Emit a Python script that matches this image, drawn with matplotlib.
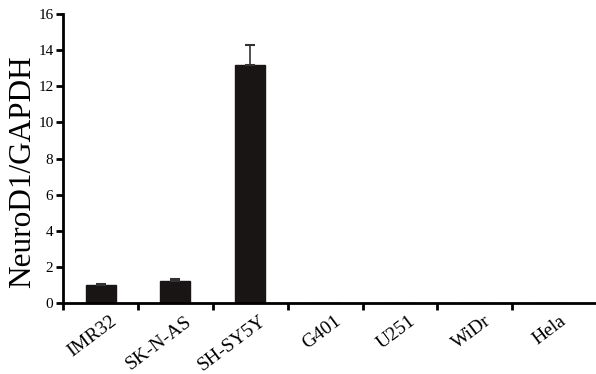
import matplotlib
matplotlib.use("Agg")
import matplotlib.pyplot as plt
import numpy as np

# ----- Data -----
cell_lines = ["IMR32", "SK-N-AS", "SH-SY5Y", "G401", "U251", "WiDr", "Hela"]
neurod1 = [1.0, 1.2, 13.2, 0, 0, 0, 0]
err_up = [0.05, 0.12, 1.1, 0, 0, 0, 0]
yticks = [0, 2, 4, 6, 8, 10, 12, 14, 16]

plt.rcParams['font.family'] = ['Liberation Serif', 'DejaVu Serif']

fig = plt.figure(figsize=(5.96, 3.74), dpi=100)
ax = fig.add_axes([0.106, 0.19, 0.894, 0.772])

x = np.arange(len(cell_lines))
ax.bar(x, neurod1, width=0.4, color="#1a1515", edgecolor="#1a1515")

# error bars only where there is a measurable value
has_err = [i for i, e in enumerate(err_up) if e > 0]
ax.errorbar(x[has_err], [neurod1[i] for i in has_err],
            yerr=[[0] * len(has_err), [err_up[i] for i in has_err]],
            fmt="none", ecolor="#333333", elinewidth=1.2, capsize=3.5, capthick=1.5)

ax.set_xlim(-0.5, 6.62)
ax.set_ylim(0, 16)
ax.set_yticks(yticks)
ax.set_xticks(np.arange(-0.5, 6.0, 1.0))
ax.set_xticklabels([])
ax.set_xticks(x + 0.12, minor=True)
ax.set_xticklabels(cell_lines, minor=True, rotation=37, ha="right",
                   rotation_mode="anchor", fontsize=14)
ax.tick_params(axis="x", which="minor", length=0, pad=7)
ax.tick_params(axis="x", which="major", length=5, width=2, direction="out")
ax.tick_params(axis="y", length=5, width=2, direction="out", labelsize=11, pad=2)

for s in ["top", "right"]:
    ax.spines[s].set_visible(False)
for s in ["left", "bottom"]:
    ax.spines[s].set_linewidth(2)

ax.set_ylabel("NeuroD1/GAPDH", fontsize=22.5)
ax.yaxis.set_label_coords(-0.048, 0.453)

fig.savefig("out.png", dpi=100)
